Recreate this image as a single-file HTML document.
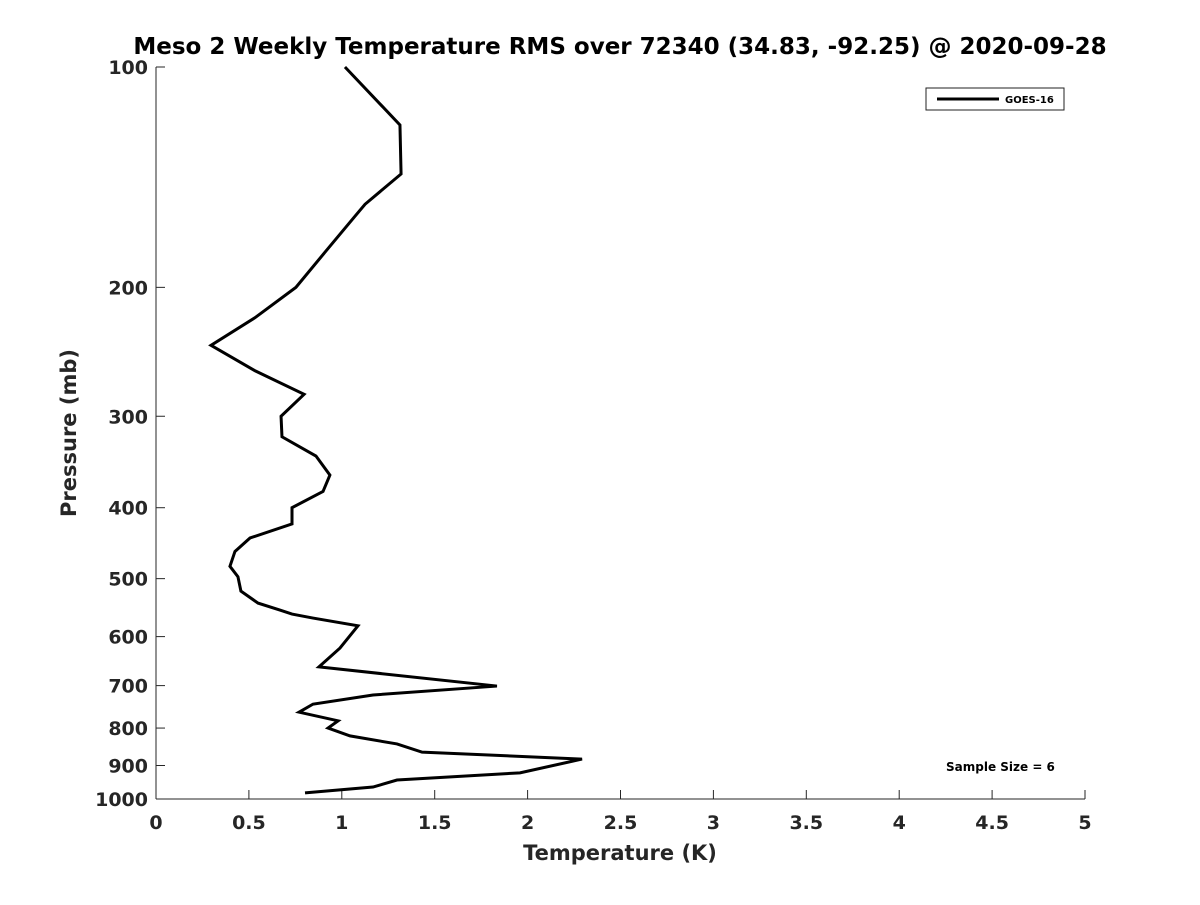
<!DOCTYPE html>
<html><head><meta charset="utf-8"><style>body{margin:0;background:#fff}svg text{font-family:"DejaVu Sans","Liberation Sans",sans-serif;font-weight:bold;fill:#262626}</style></head>
<body>
<svg id="chart" width="1200" height="900" xmlns="http://www.w3.org/2000/svg">
<text x="620" y="54" text-anchor="middle" font-size="23" style="fill:#000">Meso 2 Weekly Temperature RMS over 72340 (34.83, -92.25) @ 2020-09-28</text>
<g id="axes"></g>
<polyline id="line" fill="none" stroke="#000" stroke-width="3" stroke-linejoin="miter"/>
<g><rect x="926" y="88" width="138" height="22" fill="#fff" stroke="#222" stroke-width="1"/><line x1="937" y1="99" x2="999" y2="99" stroke="#000" stroke-width="3"/><text x="1005" y="103" font-size="10" style="fill:#000">GOES-16</text></g>
<text x="946" y="771" font-size="12" style="fill:#000">Sample Size = 6</text>
<text x="620" y="860" text-anchor="middle" font-size="21">Temperature (K)</text>
<text transform="translate(76,433) rotate(-90)" text-anchor="middle" font-size="21">Pressure (mb)</text>
</svg>
<script>
const pressures=[100,120,140,154,160,179,200,220,240,260,280,300,320,340,361,380,400,421,440,459,481,497,520,540,552,559,566,580,622,660,701,721,742,761,782,800,820,841,863,882,921,942,963,981];
const temps=[1.017,1.313,1.319,1.125,1.07,0.91,0.753,0.533,0.296,0.533,0.797,0.673,0.678,0.861,0.936,0.899,0.732,0.732,0.506,0.425,0.398,0.441,0.457,0.549,0.667,0.732,0.845,1.087,0.99,0.877,1.835,1.168,0.845,0.77,0.98,0.926,1.044,1.297,1.432,2.293,1.959,1.297,1.168,0.802];
const xTicks=[0,0.5,1,1.5,2,2.5,3,3.5,4,4.5,5];
const yTicks=[100,200,300,400,500,600,700,800,900,1000];
const X0=156,X1=1085,Y0=67,Y1=799;
const xs=v=>X0+(X1-X0)*v/5;
const ys=p=>Y0+(Y1-Y0)*Math.log10(p/100);
const NS="http://www.w3.org/2000/svg";
const ax=document.getElementById('axes');
function mk(t,a){const e=document.createElementNS(NS,t);for(const k in a)e.setAttribute(k,a[k]);ax.appendChild(e);return e;}
const xl=mk('line',{x1:X0,y1:Y1,x2:X1,y2:Y1,stroke:'#262626','stroke-width':1});


const yl=mk('line',{x1:X0,y1:Y0,x2:X0,y2:Y1,stroke:'#262626','stroke-width':1});


xTicks.forEach(v=>{const x=xs(v);mk('line',{x1:x,y1:Y1,x2:x,y2:Y1-9,stroke:'#262626'});
const t=mk('text',{x:x,y:Y1+30,'text-anchor':'middle','font-size':19});t.textContent=v;

});
yTicks.forEach(p=>{const y=ys(p);mk('line',{x1:X0,y1:y,x2:X0+9,y2:y,stroke:'#262626'});
const t=mk('text',{x:X0-8,y:y+7,'text-anchor':'end','font-size':19});t.textContent=p;

});
document.getElementById('line').setAttribute('points',pressures.map((p,i)=>xs(temps[i])+','+ys(p)).join(' '));
</script>
</body></html>
